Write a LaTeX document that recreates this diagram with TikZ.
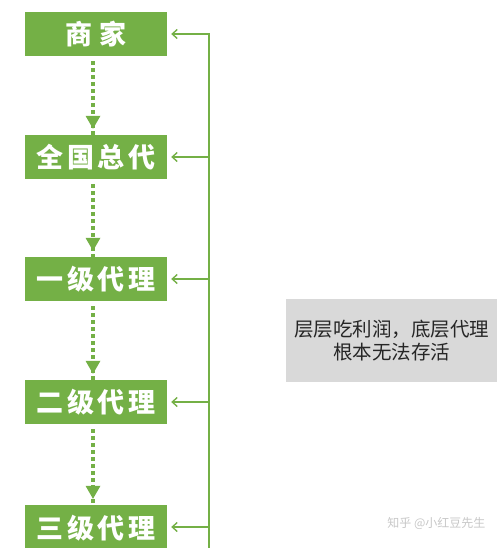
\documentclass[tikz,border=0pt]{standalone}
\usepackage{fontspec}
\newfontfamily\cjk{Noto Sans CJK SC}
\usetikzlibrary{arrows.meta}
\definecolor{grn}{HTML}{74B046}
\definecolor{gbox}{HTML}{D9D9D9}
\newcommand{\chgap}{\hspace{3.5pt}}
\tikzset{
  stepbox/.style={fill=grn, minimum width=142pt, minimum height=44pt, inner sep=0pt,
    text=white, font=\cjk\bfseries\fontsize{27}{30}\selectfont},
  dotline/.style={draw=grn, line width=3.5pt, dash pattern=on 3.5pt off 3.5pt},
  backarrow/.style={draw=grn, line width=1.6pt, -{Straight Barb[length=5pt,width=9pt,line width=1.4pt]}},
}
\begin{document}
\begin{tikzpicture}[x=1pt,y=-1pt]
\useasboundingbox (0,0) rectangle (497,548);
\node[stepbox] (s1) at (96,34) {商\hspace{7pt}家};
\node[stepbox] (s2) at (96,157) {全\chgap 国\chgap 总\chgap 代};
\node[stepbox] (s3) at (96,279) {一\chgap 级\chgap 代\chgap 理};
\node[stepbox] (s4) at (96,402) {二\chgap 级\chgap 代\chgap 理};
\node[stepbox, minimum height=46pt] (s5) at (96,528) {三\chgap 级\chgap 代\chgap 理};
\foreach \a/\b in {s1/s2,s2/s3,s3/s4,s4/s5}{
  \coordinate (\a-o) at ([xshift=-3pt,yshift=-5pt]\a.south);
  \coordinate (\a-t) at ([xshift=-3pt,yshift=6pt]\b.north);
  \draw[dotline] (\a-o) -- ([yshift=-13pt]\a-t);
  \fill[grn] (\a-t) -- ++(-7.5,-13) -- ++(15,0) -- cycle;
}
\coordinate (top) at (209,33);
\coordinate (bot) at (209,548);
\draw[grn, line width=1.6pt] (top) -- (bot);
\foreach \n/\y in {s1/34,s2/157,s3/279,s4/402,s5/527}{
  \draw[backarrow] (209,\y) -- ([xshift=4pt]\n.east |- 0,\y);
}
\node[fill=gbox, minimum width=211pt, minimum height=83pt, inner sep=0pt, align=center,
  font=\cjk\fontsize{19.5}{23}\selectfont, text=black!85] (note) at (391.5,340.5)
  {层层吃利润，底层代理\\根本无法存活};
\node[font=\cjk\fontsize{12}{14}\selectfont, text=black!22, anchor=east] (wm) at (489,523) {知乎 @小红豆先生};
\end{tikzpicture}
\end{document}
